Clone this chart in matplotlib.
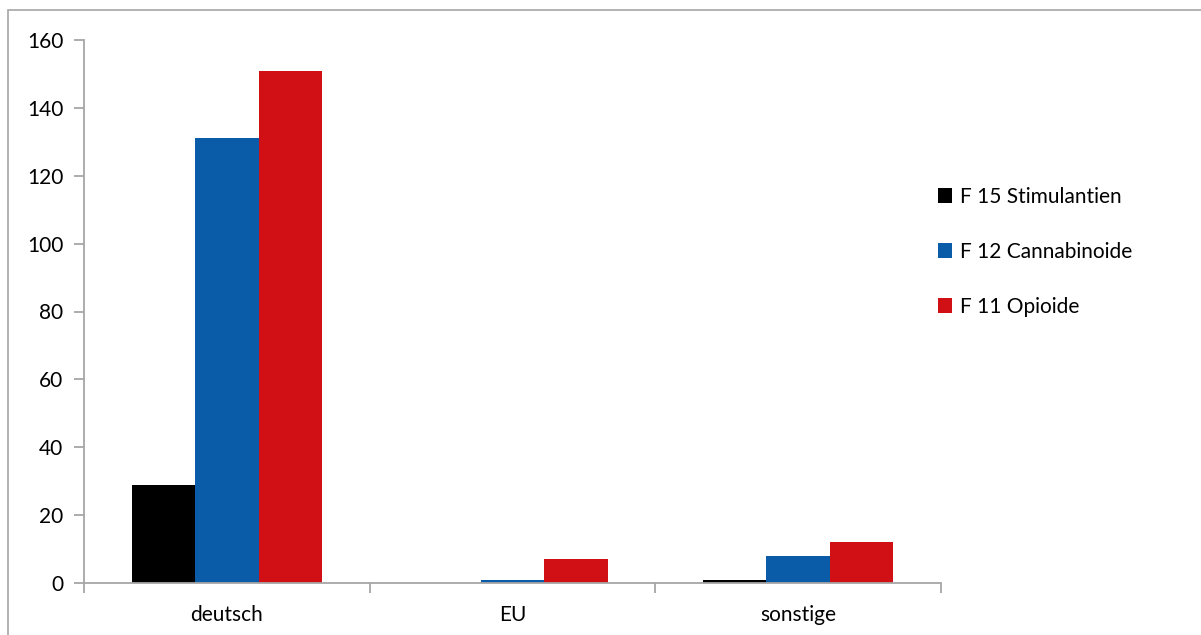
import matplotlib.pyplot as plt
import numpy as np
from matplotlib.patches import Rectangle

plt.rcParams['font.family'] = ['Lato', 'DejaVu Sans']

categories = ['deutsch', 'EU', 'sonstige']
series = ['F 15 Stimulantien', 'F 12 Cannabinoide', 'F 11 Opioide']
values = {
    'F 15 Stimulantien': [29, 0, 1],
    'F 12 Cannabinoide': [131, 1, 8],
    'F 11 Opioide': [151, 7, 12],
}
colors = ['#000000', '#0b5ca8', '#d01015']
yticks = [0, 20, 40, 60, 80, 100, 120, 140, 160]

fig = plt.figure(figsize=(12.01, 6.35), dpi=100)
ax = fig.add_axes([84 / 1201, 1 - 583 / 635, (941 - 84) / 1201, (583 - 40) / 635])

# outer frame (only top and left visible)
fig.patches.append(Rectangle((8 / 1201, -0.1), 1.2, 625 / 635 + 0.1,
                             transform=fig.transFigure, fill=False,
                             edgecolor='#a6a6a6', linewidth=1.2, zorder=0))

x = np.arange(len(categories))
w = 0.222
for i, (name, c) in enumerate(zip(series, colors)):
    ax.bar(x + (i - 1) * w, values[name], width=w, color=c, label=name, zorder=2)

ax.set_xlim(-0.5, len(categories) - 0.5)
ax.set_ylim(0, 160)
ax.set_yticks(yticks)
ax.tick_params(axis='y', length=7, color='#a6a6a6', labelsize=15, pad=8, width=1.3)
ax.set_xticks(x)
ax.set_xticklabels(categories)
ax.tick_params(axis='x', length=0, labelsize=15, pad=16)
ax.set_xticks(np.arange(len(categories) + 1) - 0.5, minor=True)
ax.tick_params(axis='x', which='minor', length=7, color='#a6a6a6', width=1.3)

for s in ['top', 'right']:
    ax.spines[s].set_visible(False)
for s in ['left', 'bottom']:
    ax.spines[s].set_color('#a6a6a6')
    ax.spines[s].set_linewidth(1.3)
ax.spines['bottom'].set_zorder(3)

ax.legend(loc='upper left', bbox_to_anchor=(919 / 1201, 1 - 168 / 635),
          bbox_transform=fig.transFigure, frameon=False, fontsize=15,
          handlelength=0.7, handleheight=0.7, handletextpad=0.35, labelspacing=1.68)

fig.savefig('out.png', dpi=100)
